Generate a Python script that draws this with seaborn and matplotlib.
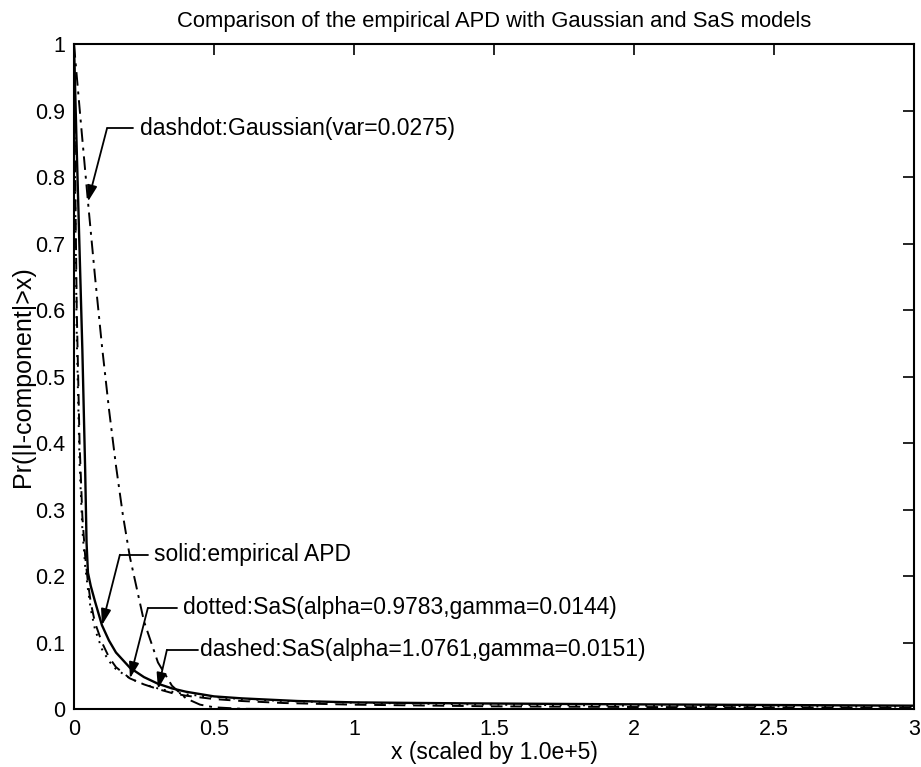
import numpy as np
import pandas as pd
import matplotlib
matplotlib.use("Agg")
import matplotlib.pyplot as plt
import seaborn as sns

# Amplitude probability distributions, x in units of 1.0e+5
emp_x = [0, 0.01, 0.02, 0.03, 0.04, 0.045, 0.05, 0.06, 0.075, 0.1, 0.125, 0.15,
         0.2, 0.25, 0.3, 0.35, 0.4, 0.5, 0.6, 0.7, 0.8, 0.9, 1.0, 1.2, 1.4, 1.6,
         1.8, 2.0, 2.25, 2.5, 2.75, 3.0]
emp_y = [1.0, 0.84, 0.69, 0.54, 0.36, 0.25, 0.205, 0.185, 0.162, 0.126, 0.103, 0.085,
         0.062, 0.048, 0.038, 0.031, 0.026, 0.019, 0.016, 0.014, 0.012, 0.011, 0.010,
         0.0092, 0.0085, 0.008, 0.0075, 0.007, 0.0065, 0.006, 0.0055, 0.005]

sas_x = [0, 0.005, 0.01, 0.02, 0.03, 0.04, 0.05, 0.06, 0.075, 0.1, 0.125, 0.15,
         0.2, 0.25, 0.3, 0.35, 0.4, 0.5, 0.6, 0.75, 1.0, 1.5, 2.0, 2.5, 3.0]
sas1_y = [1.0, 0.74, 0.56, 0.37, 0.27, 0.215, 0.18, 0.15, 0.12, 0.09, 0.072, 0.06,
          0.046, 0.037, 0.031, 0.026, 0.022, 0.018, 0.015, 0.012, 0.0095, 0.0065,
          0.005, 0.004, 0.0035]
sas2_y = [1.0, 0.78, 0.60, 0.40, 0.29, 0.23, 0.19, 0.16, 0.13, 0.10, 0.078, 0.063,
          0.046, 0.037, 0.030, 0.024, 0.020, 0.015, 0.012, 0.009, 0.0065, 0.004,
          0.003, 0.0025, 0.002]

gauss_x = [0, 0.025, 0.05, 0.075, 0.1, 0.125, 0.15, 0.175, 0.2, 0.25, 0.3, 0.35,
           0.4, 0.45, 0.5, 0.6, 0.75, 1.0, 2.0, 3.0]
gauss_y = [1.0, 0.880, 0.763, 0.651, 0.546, 0.451, 0.366, 0.291, 0.228, 0.132, 0.070,
           0.035, 0.016, 0.0066, 0.0026, 0.0003, 0.0, 0.0, 0.0, 0.0]

x_ticks = [0, 0.5, 1, 1.5, 2, 2.5, 3]
x_tick_labels = ["0", "0.5", "1", "1.5", "2", "2.5", "3"]
y_ticks = [0, 0.1, 0.2, 0.3, 0.4, 0.5, 0.6, 0.7, 0.8, 0.9, 1.0]
y_tick_labels = ["0", "0.1", "0.2", "0.3", "0.4", "0.5", "0.6", "0.7", "0.8", "0.9", "1"]

sns.set_theme(style="white")
plt.rcParams["font.family"] = ["Liberation Sans", "DejaVu Sans"]
plt.rcParams["text.color"] = "black"
plt.rcParams["axes.labelcolor"] = "black"

fig = plt.figure(figsize=(9.21, 7.67), dpi=100)
ax = fig.add_axes([0.0803, 0.0756, 0.9121, 0.867])

emp = pd.DataFrame({"x": emp_x, "y": emp_y})
sas1 = pd.DataFrame({"x": sas_x, "y": sas1_y})
sas2 = pd.DataFrame({"x": sas_x, "y": sas2_y})
gauss = pd.DataFrame({"x": gauss_x, "y": gauss_y})

sns.lineplot(data=emp, x="x", y="y", ax=ax, color="black", lw=1.7, linestyle="-")
sns.lineplot(data=sas1, x="x", y="y", ax=ax, color="black", lw=1.4, linestyle=(0, (1, 3)))
sns.lineplot(data=sas2, x="x", y="y", ax=ax, color="black", lw=1.4, linestyle=(0, (6, 4)))
sns.lineplot(data=gauss, x="x", y="y", ax=ax, color="black", lw=1.4,
             linestyle=(0, (7, 3, 1.5, 3)))

ax.set_xlim(0, 3)
ax.set_ylim(0, 1)
ax.set_xticks(x_ticks)
ax.set_xticklabels(x_tick_labels)
ax.set_yticks(y_ticks)
ax.set_yticklabels(y_tick_labels)
ax.tick_params(direction="in", length=8, width=1.2, top=True, right=True,
               labelsize=15.5, colors="black")
ax.tick_params(axis="x", pad=7)
ax.tick_params(axis="y", pad=6)
for sp in ax.spines.values():
    sp.set_visible(True)
    sp.set_color("black")
    sp.set_linewidth(1.5)

ax.set_title("Comparison of the empirical APD with Gaussian and SaS models",
             fontsize=15.8, pad=12)
ax.set_xlabel("x (scaled by 1.0e+5)", fontsize=16.5, labelpad=1)
ax.set_ylabel("Pr(|I-component|>x)", fontsize=18, labelpad=0)


def callout(text, tip, corner, bar_end, text_x):
    ax.plot([corner[0], bar_end], [corner[1], corner[1]], color="black", lw=1.3)
    ax.annotate("", xy=tip, xytext=corner,
                arrowprops=dict(arrowstyle="-|>,head_length=0.8,head_width=0.25",
                                color="black", lw=1.3, shrinkA=0, shrinkB=0))
    ax.text(text_x, corner[1], text, fontsize=16.5, va="center", ha="left")


callout("dashdot:Gaussian(var=0.0275)", (gauss_x[2], gauss_y[2]),
        (0.118, 0.873), 0.211, 0.235)
callout("solid:empirical APD", (emp_x[9], emp_y[9]),
        (0.164, 0.232), 0.264, 0.287)
callout("dotted:SaS(alpha=0.9783,gamma=0.0144)", (sas_x[12], sas1_y[12]),
        (0.264, 0.152), 0.368, 0.39)
callout("dashed:SaS(alpha=1.0761,gamma=0.0151)", (sas_x[14], sas2_y[14]),
        (0.332, 0.089), 0.443, 0.45)

fig.savefig("out.png", dpi=100)
